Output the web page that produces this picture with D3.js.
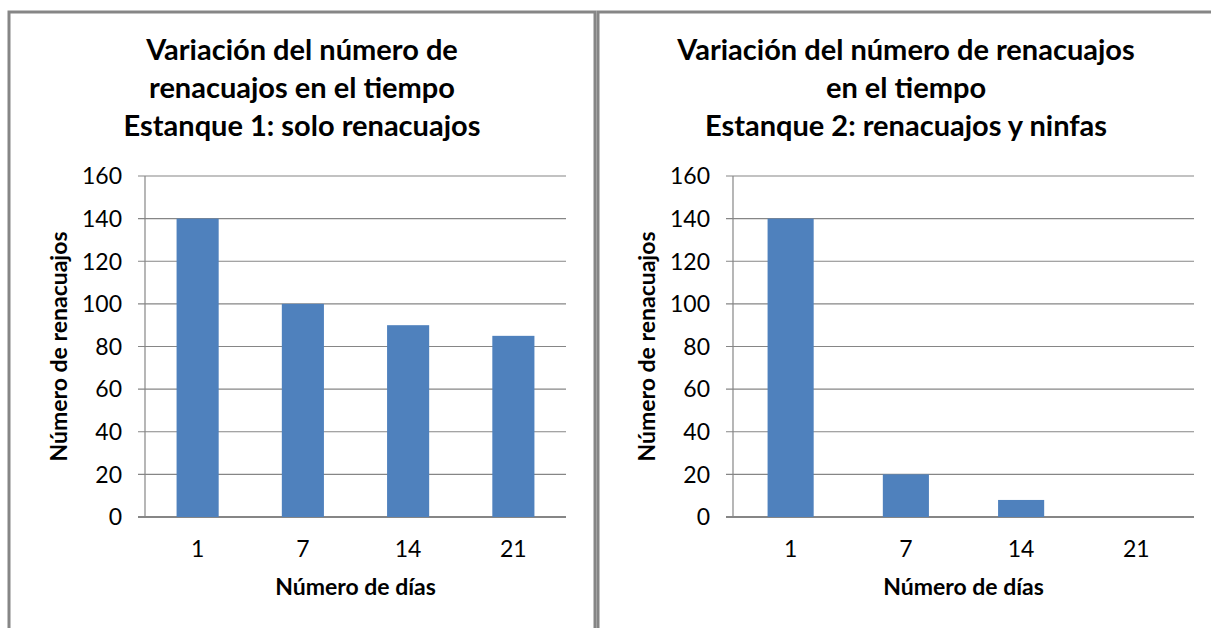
<!DOCTYPE html>
<html>
<head>
<meta charset="utf-8">
<script src="https://cdn.jsdelivr.net/npm/d3@7"></script>
<style>
  body { margin: 0; background: #fff; }
  svg text { font-family: Lato, "Open Sans", sans-serif; fill: #000; }
</style>
</head>
<body>
<svg width="1211" height="628"></svg>
<script>
const days = ['1', '7', '14', '21'];
const pond1 = [140, 100, 90, 85];
const pond2 = [140, 20, 8, 0];
const yTicks = [0, 20, 40, 60, 80, 100, 120, 140, 160];
const title1 = ['Variación del número de', 'renacuajos en el tiempo', 'Estanque 1: solo renacuajos'];
const title2 = ['Variación del número de renacuajos', 'en el tiempo', 'Estanque 2: renacuajos y ninfas'];

const svg = d3.select('svg');
const grey = '#868686';

const panels = [
  { x0: 8, x1: 596, left: 145, right: 566, title: title1, values: pond1 },
  { x0: 597, x1: 1215, left: 733, right: 1194, title: title2, values: pond2 }
];

const plotTop = 176, plotBottom = 517;

panels.forEach((p) => {
  const g = svg.append('g');

  g.append('rect')
    .attr('x', p.x0 + 1).attr('y', 12)
    .attr('width', p.x1 - p.x0 - 2).attr('height', 640)
    .attr('fill', '#fff').attr('stroke', grey).attr('stroke-width', 3);

  const cx = (p.x0 + p.x1) / 2;
  g.selectAll('.title')
    .data(p.title)
    .enter().append('text')
    .attr('x', cx)
    .attr('y', (d, i) => 60 + i * 38)
    .attr('text-anchor', 'middle')
    .attr('font-size', 29)
    .attr('font-weight', 'bold')
    .text((d) => d);

  const x = d3.scaleBand().domain(days).range([p.left, p.right]).paddingInner(0.6).paddingOuter(0.3);
  const y = d3.scaleLinear().domain([0, 160]).range([plotBottom, plotTop]);

  // gridlines
  g.selectAll('.grid')
    .data(yTicks)
    .enter().append('line')
    .attr('x1', p.left - 7).attr('x2', p.right)
    .attr('y1', (d) => y(d)).attr('y2', (d) => y(d))
    .attr('stroke', grey).attr('stroke-width', (d) => d === 0 ? 2 : 1.2);

  g.append('line')
    .attr('x1', p.left).attr('x2', p.left)
    .attr('y1', plotTop).attr('y2', plotBottom)
    .attr('stroke', grey).attr('stroke-width', 1.2);

  g.selectAll('.bar')
    .data(p.values)
    .enter().append('rect')
    .attr('x', (d, i) => x(days[i]))
    .attr('y', (d) => y(d))
    .attr('width', x.bandwidth())
    .attr('height', (d) => plotBottom - y(d))
    .attr('fill', '#4F81BD');

  g.selectAll('.ytick')
    .data(yTicks)
    .enter().append('text')
    .attr('x', p.left - 23)
    .attr('y', (d) => y(d))
    .attr('dy', '0.36em')
    .attr('text-anchor', 'end')
    .attr('font-size', 23)
    .text((d) => d);

  g.selectAll('.xtick')
    .data(days)
    .enter().append('text')
    .attr('x', (d) => x(d) + x.bandwidth() / 2)
    .attr('y', 549)
    .attr('dy', '0.36em')
    .attr('text-anchor', 'middle')
    .attr('font-size', 23)
    .text((d) => d);

  g.append('text')
    .attr('x', (p.left + p.right) / 2)
    .attr('y', 587)
    .attr('dy', '0.36em')
    .attr('text-anchor', 'middle')
    .attr('font-size', 23)
    .attr('font-weight', 'bold')
    .text('Número de días');

  g.append('text')
    .attr('transform', `translate(${p.left - 86},${(plotTop + plotBottom) / 2}) rotate(-90)`)
    .attr('dy', '0.36em')
    .attr('text-anchor', 'middle')
    .attr('font-size', 23)
    .attr('font-weight', 'bold')
    .text('Número de renacuajos');
});
</script>
</body>
</html>
